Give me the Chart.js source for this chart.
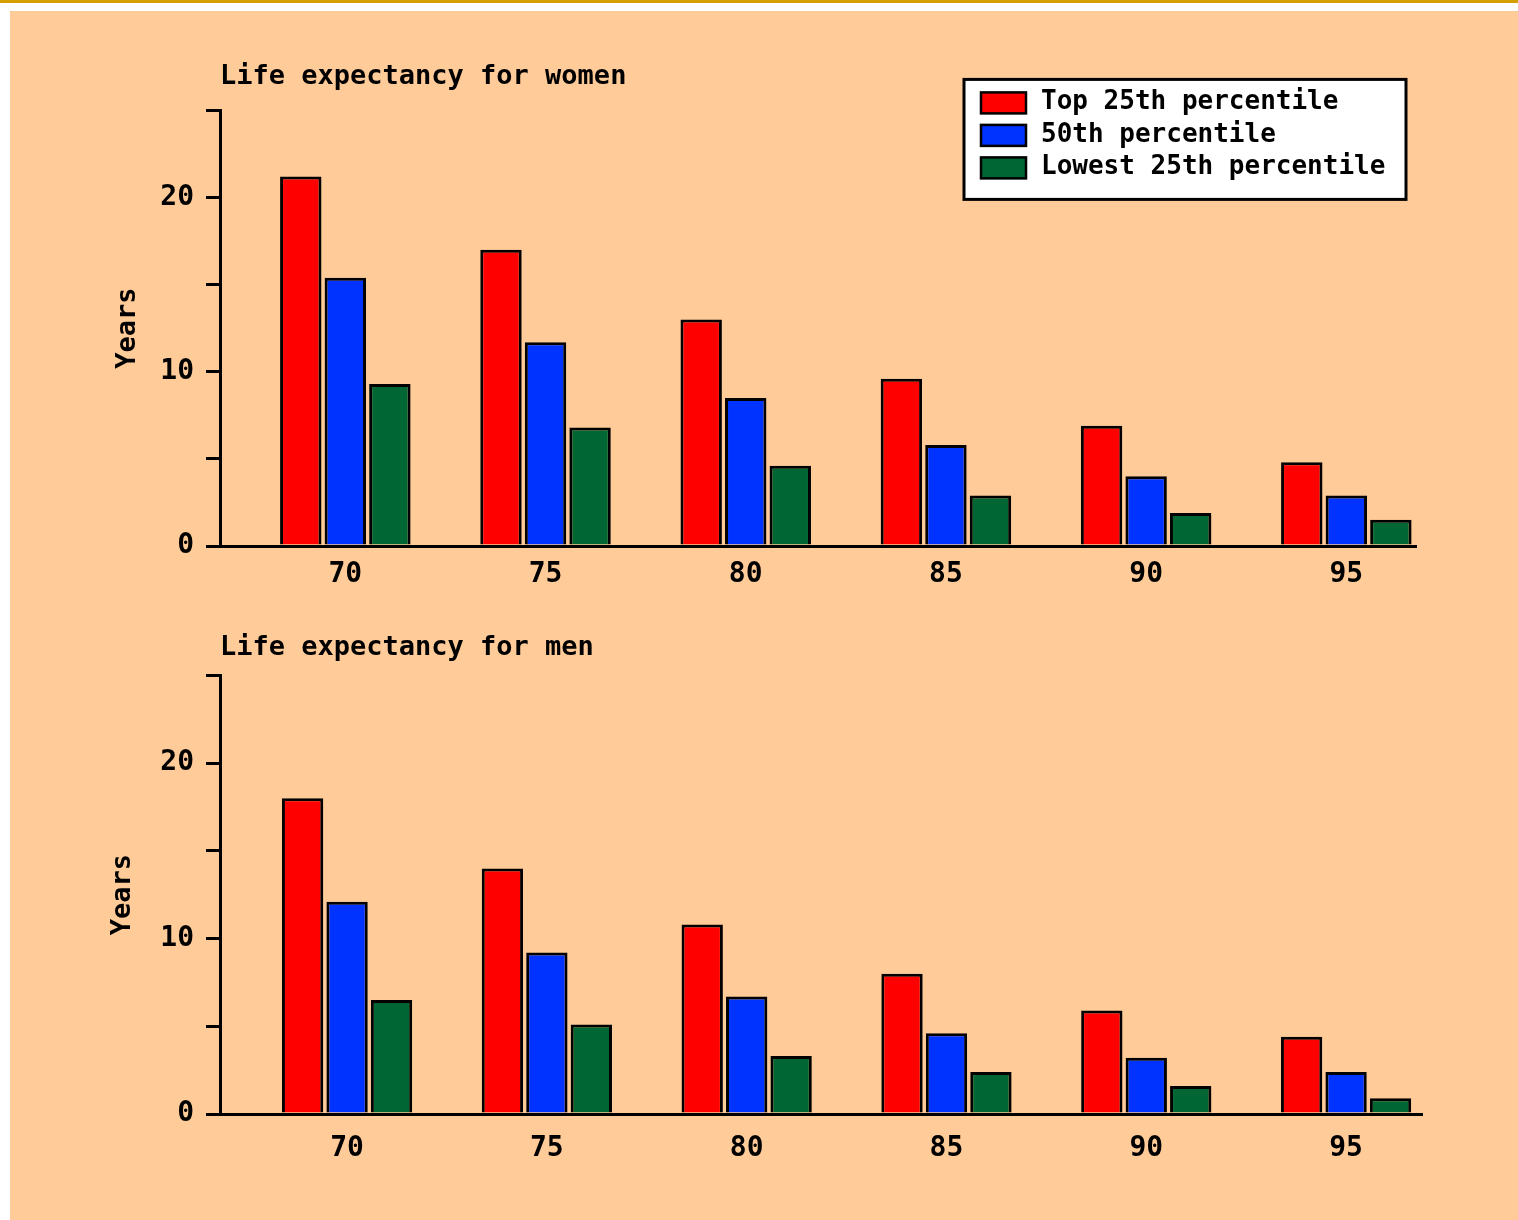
<!DOCTYPE html>
<html>
<head>
<meta charset="utf-8">
<title>Life expectancy</title>
<script src="https://cdn.jsdelivr.net/npm/chart.js@4.4.1/dist/chart.umd.min.js"></script>
<style>
  html, body { margin: 0; padding: 0; background: #fff; }
  #pagina { position: relative; width: 1518px; height: 1220px; overflow: hidden; }
  #barra { position: absolute; left: 0; top: 0; width: 1518px; height: 3px; background: #D4A000; }
  #fondo { position: absolute; left: 10px; top: 11px; width: 1508px; height: 1209px; background: #FFCC99; }
  .lienzo { position: absolute; left: 0; width: 1518px; }
</style>
</head>
<body>
<div id="pagina">
  <div id="barra"></div>
  <div id="fondo"></div>
  <div class="lienzo" style="top:0;height:600px"><canvas id="mujeres"></canvas></div>
  <div class="lienzo" style="top:600px;height:620px"><canvas id="hombres"></canvas></div>
</div>
<script>
// datos
const edades = [70, 75, 80, 85, 90, 95];
const etiquetasSeries = ['Top 25th percentile', '50th percentile', 'Lowest 25th percentile'];
const coloresSeries = ['#FF0000', '#0033FF', '#006633'];

const mujeresTop = [21.2, 17.0, 13.0, 9.6, 6.9, 4.8];
const mujeresMedio = [15.4, 11.7, 8.5, 5.8, 4.0, 2.9];
const mujeresBajo = [9.3, 6.8, 4.6, 2.9, 1.9, 1.5];

const hombresTop = [18.0, 14.0, 10.8, 8.0, 5.9, 4.4];
const hombresMedio = [12.1, 9.2, 6.7, 4.6, 3.2, 2.4];
const hombresBajo = [6.5, 5.1, 3.3, 2.4, 1.6, 0.9];

const ticksY = [0, 10, 20];

const fuente = 'DejaVu Sans Mono';
Chart.defaults.font.family = fuente;
Chart.defaults.font.weight = 'bold';
Chart.defaults.color = '#000';

// caja de leyenda blanca dentro del area del grafico
const leyendaCaja = {
    id: 'leyendaCaja',
    afterDraw(chart, args, opts) {
        if (!opts.mostrar) return;
        const { ctx, chartArea } = chart;
        const ancho = 442, alto = 120;
        const x0 = chartArea.right - 10 - ancho;
        const y0 = chartArea.top - 31;
        ctx.save();
        ctx.fillStyle = '#fff';
        ctx.fillRect(x0, y0, ancho, alto);
        ctx.lineWidth = 3;
        ctx.strokeStyle = '#000';
        ctx.strokeRect(x0, y0, ancho, alto);
        ctx.font = 'bold 26px ' + fuente;
        ctx.textBaseline = 'middle';
        chart.data.datasets.forEach((ds, i) => {
            const yc = y0 + 23 + i * 32.5;
            ctx.fillStyle = ds.backgroundColor;
            ctx.fillRect(x0 + 17, yc - 10, 45, 21);
            ctx.lineWidth = 2.5;
            ctx.strokeRect(x0 + 17, yc - 10, 45, 21);
            ctx.fillStyle = '#000';
            ctx.fillText(ds.label, x0 + 77, yc);
        });
        ctx.restore();
    }
};

function crearGrafico(canvas, titulo, series, cfg) {
    return new Chart(canvas, {
        type: 'bar',
        data: {
            datasets: series.map((serie, i) => ({
                label: etiquetasSeries[i],
                data: edades.map((x, j) => ({ x: x, y: serie[j] })),
                backgroundColor: coloresSeries[i],
                borderColor: '#000',
                borderWidth: 3,
                barPercentage: 0.93,
                categoryPercentage: 0.6675
            }))
        },
        plugins: [leyendaCaja],
        options: {
            responsive: true,
            maintainAspectRatio: false,
            animation: false,
            layout: { padding: { left: 0, right: cfg.derecha, top: 0, bottom: cfg.abajo } },
            plugins: {
                legend: { display: false },
                tooltip: { enabled: false },
                title: {
                    display: true,
                    text: titulo,
                    align: 'start',
                    fullSize: false,
                    color: '#000',
                    font: { size: 27, weight: 'bold' },
                    padding: { top: cfg.tituloArriba, bottom: cfg.tituloAbajo }
                },
                leyendaCaja: { mostrar: cfg.leyenda }
            },
            scales: {
                x: {
                    type: 'linear',
                    offset: false,
                    min: cfg.xMin,
                    max: cfg.xMax,
                    afterBuildTicks: (s) => { s.ticks = edades.map(v => ({ value: v })); },
                    afterFit: (s) => { s.height = 54; },
                    grid: { display: false },
                    border: { display: true, color: '#000', width: 3 },
                    ticks: {
                        color: '#000',
                        font: { size: 28, weight: 'bold' },
                        padding: cfg.padX,
                        maxRotation: 0,
                        autoSkip: false,
                        callback: (v) => v
                    }
                },
                y: {
                    min: 0,
                    max: 25,
                    afterFit: (s) => { s.width = 220; },
                    grid: { drawOnChartArea: false, drawTicks: true, tickLength: 14, color: '#000', lineWidth: 3 },
                    border: { display: true, color: '#000', width: 3 },
                    ticks: {
                        stepSize: 5,
                        color: '#000',
                        padding: 12,
                        font: { size: 28, weight: 'bold' },
                        callback: (v) => ticksY.includes(v) ? v : ''
                    },
                    title: {
                        display: true,
                        text: 'Years',
                        color: '#000',
                        font: { size: 27, weight: 'bold' },
                        padding: { top: cfg.yearsX, bottom: 0 }
                    }
                }
            }
        }
    });
}

crearGrafico(document.getElementById('mujeres'), 'Life expectancy for women',
    [mujeresTop, mujeresMedio, mujeresBajo],
    { derecha: 102, abajo: 0, tituloArriba: 61, tituloAbajo: 17, xMin: 66.87, xMax: 96.74, padX: 4, yearsX: 112, leyenda: true });

crearGrafico(document.getElementById('hombres'), 'Life expectancy for men',
    [hombresTop, hombresMedio, hombresBajo],
    { derecha: 96, abajo: 52, tituloArriba: 32, tituloAbajo: 11, xMin: 66.82, xMax: 96.9, padX: 10, yearsX: 107, leyenda: false });
</script>
</body>
</html>
